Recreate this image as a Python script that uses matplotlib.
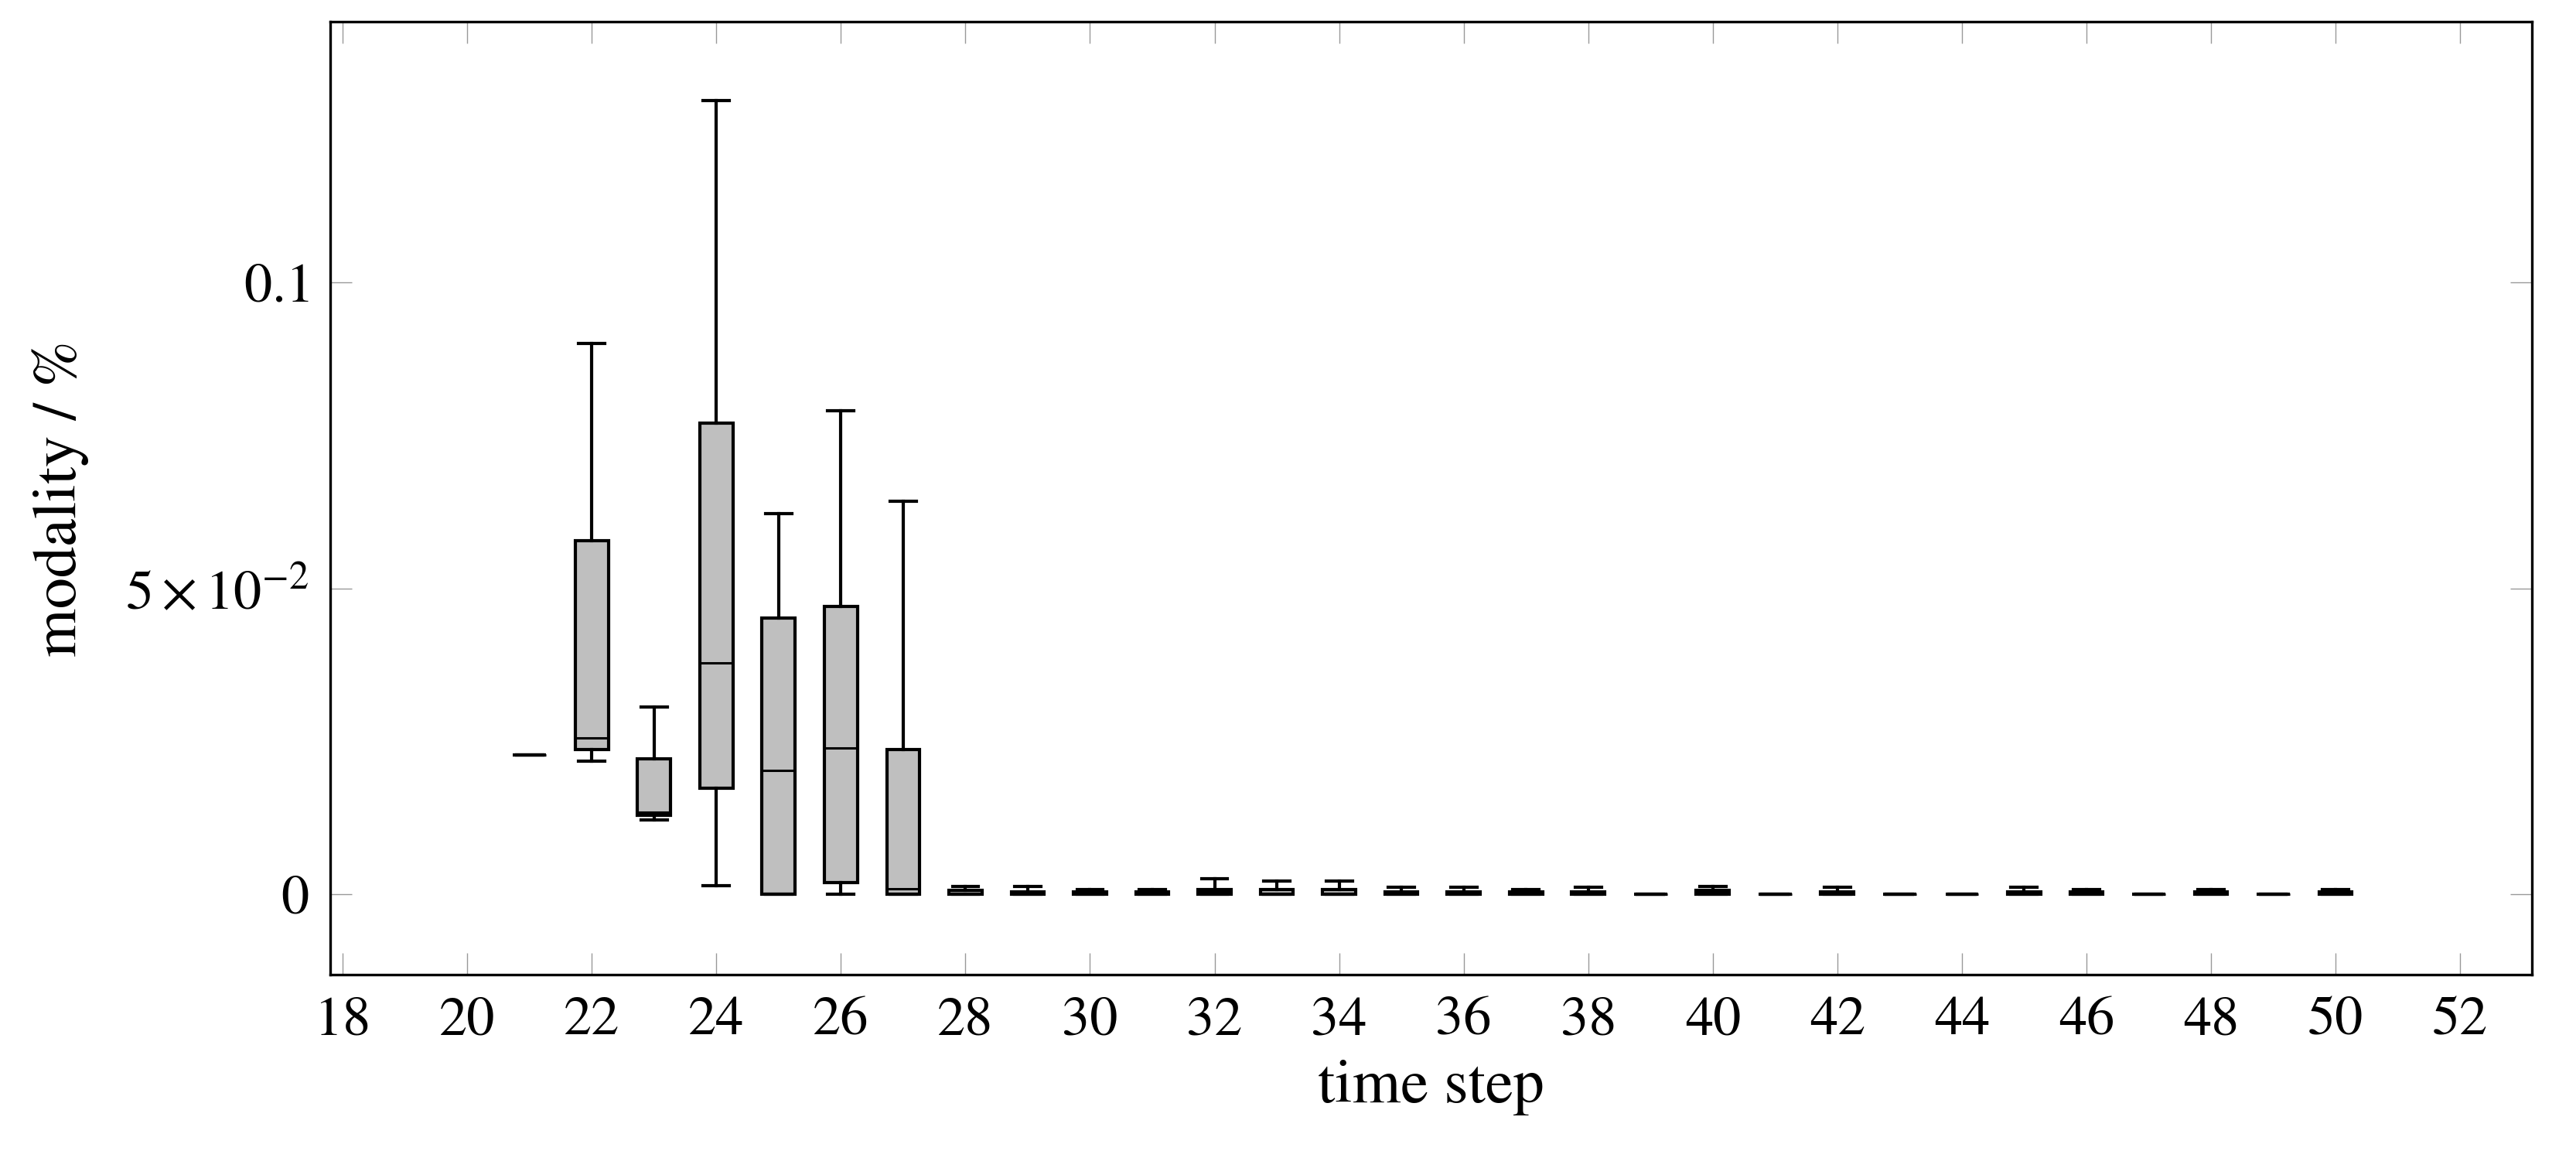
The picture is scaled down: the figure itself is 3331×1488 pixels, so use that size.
"""Boxplot of modality per time step (pgfplots look)."""

import matplotlib

matplotlib.use("Agg")
import matplotlib.pyplot as plt
from matplotlib.ticker import FixedLocator, FixedFormatter

# %% Data
time_steps = list(range(21, 51))
whislo = [0.0228, 0.0218, 0.0121, 0.0014, 0.0, 0.0, 0.0, 0.0, 0.0, 0.0,
          0.0, 0.0, 0.0, 0.0, 0.0, 0.0, 0.0, 0.0, 0.0, 0.0,
          0.0, 0.0, 0.0, 0.0, 0.0, 0.0, 0.0, 0.0, 0.0, 0.0]
q1 = [0.0228, 0.0237, 0.0129, 0.0174, 0.0, 0.0019, 0.0, 0.0, 0.0, 0.0,
      0.0, 0.0, 0.0, 0.0, 0.0, 0.0, 0.0, 0.0, 0.0, 0.0,
      0.0, 0.0, 0.0, 0.0, 0.0, 0.0, 0.0, 0.0, 0.0, 0.0]
med = [0.0228, 0.0255, 0.0134, 0.0378, 0.0203, 0.0239, 0.0009, 0.0001, 0.0002, 0.0002,
       0.0002, 0.0004, 0.0, 0.0, 0.0002, 0.0002, 0.0002, 0.0002, 0.0, 0.0003,
       0.0, 0.0002, 0.0, 0.0, 0.0002, 0.0002, 0.0, 0.0002, 0.0, 0.0002]
q3 = [0.0228, 0.0578, 0.0221, 0.0770, 0.0452, 0.0470, 0.0236, 0.0007, 0.0004, 0.0004,
      0.0004, 0.0008, 0.0008, 0.0008, 0.0004, 0.0004, 0.0004, 0.0004, 0.0, 0.0007,
      0.0, 0.0004, 0.0, 0.0, 0.0004, 0.0004, 0.0, 0.0004, 0.0, 0.0004]
whishi = [0.0228, 0.0900, 0.0306, 0.1297, 0.0622, 0.0790, 0.0642, 0.0013, 0.0013, 0.0008,
          0.0008, 0.0025, 0.0021, 0.0021, 0.0012, 0.0012, 0.0008, 0.0012, 0.0, 0.0013,
          0.0, 0.0012, 0.0, 0.0, 0.0012, 0.0008, 0.0, 0.0008, 0.0, 0.0008]

x_ticks = list(range(18, 53, 2))
y_ticks = [0.0, 0.05, 0.1]
y_tick_labels = ["$0$", r"$5\times10^{-2}$", "$0.1$"]

# %% Style
plt.rcParams["font.family"] = ["STIXGeneral", "DejaVu Serif"]
plt.rcParams["mathtext.fontset"] = "stix"
plt.rcParams["font.size"] = 26

# %% Plot
fig = plt.figure(figsize=(3331 / 200, 1488 / 200), dpi=200)
ax = fig.add_axes([0.1282, 0.1529, 0.8546, 0.8285])

stats = [
    {"whislo": lo, "q1": a, "med": m, "q3": b, "whishi": hi, "fliers": []}
    for lo, a, m, b, hi in zip(whislo, q1, med, q3, whishi)
]
ax.bxp(
    stats,
    positions=time_steps,
    widths=0.53,
    capwidths=0.42,
    patch_artist=True,
    showfliers=False,
    manage_ticks=False,
    boxprops=dict(facecolor="#bfbfbf", edgecolor="black", linewidth=1.5),
    medianprops=dict(color="black", linewidth=1.1),
    whiskerprops=dict(color="black", linewidth=1.5),
    capprops=dict(color="black", linewidth=1.5),
)

ax.set_xlim(17.8, 53.15)
ax.set_ylim(-0.0132, 0.1427)
ax.xaxis.set_major_locator(FixedLocator(x_ticks))
ax.yaxis.set_major_locator(FixedLocator(y_ticks))
ax.yaxis.set_major_formatter(FixedFormatter(y_tick_labels))
ax.tick_params(
    direction="in", length=10, width=0.5, color="#999999",
    top=True, right=True, pad=10,
)
for s in ax.spines.values():
    s.set_linewidth(1.2)

ax.set_xlabel("time step", fontsize=29, labelpad=6)
ax.set_ylabel("modality / %", fontsize=29, labelpad=17)

fig.savefig("out.png", dpi=200)
